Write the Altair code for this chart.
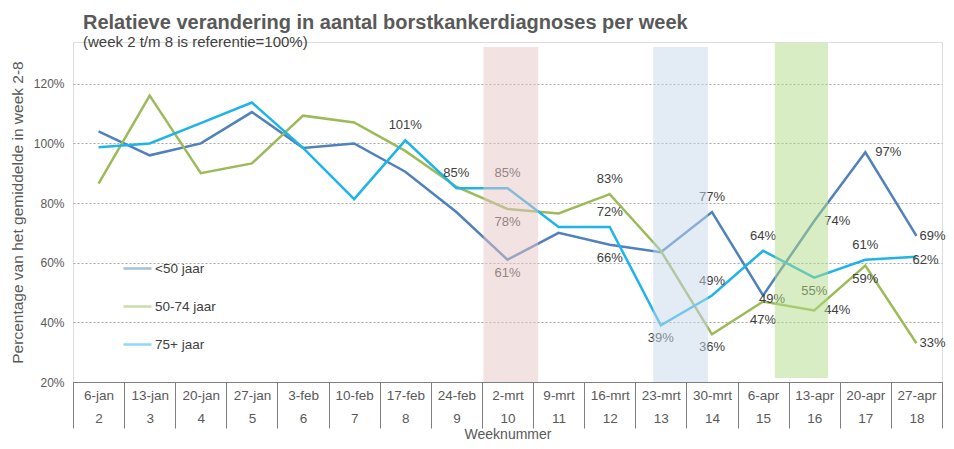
import json
import altair as alt
import pandas as pd

# ---------------- data ----------------
weeks = list(range(2, 19))
dates = ["6-jan", "13-jan", "20-jan", "27-jan", "3-feb", "10-feb", "17-feb", "24-feb",
         "2-mrt", "9-mrt", "16-mrt", "23-mrt", "30-mrt", "6-apr", "13-apr", "20-apr", "27-apr"]
under50 = [104, 96, 100, 110.5, 98.5, 100, 90.5, 77, 61, 70, 66, 63.5, 77, 49, 74, 97, 69]
mid5074 = [86.5, 116, 90, 93.3, 109.3, 107, 97.5, 85.5, 78, 76.5, 83, 64, 36, 47, 44, 59, 33]
over75 = [98.7, 100, 106.8, 113.7, 98.5, 81.3, 101, 85, 85, 72, 72, 39, 49, 64, 55, 61, 62]
series_names = ["<50 jaar", "50-74 jaar", "75+ jaar"]
series_colors = ["#4f81bd", "#9bbb59", "#1fb4e9"]

# data labels: which series / week gets a label, and where it sits
label_series = ["75+ jaar", "75+ jaar", "75+ jaar", "50-74 jaar", "<50 jaar",
                "50-74 jaar", "75+ jaar", "<50 jaar", "75+ jaar",
                "<50 jaar", "75+ jaar", "50-74 jaar",
                "75+ jaar", "<50 jaar", "50-74 jaar",
                "<50 jaar", "75+ jaar", "50-74 jaar",
                "<50 jaar", "75+ jaar", "50-74 jaar",
                "<50 jaar", "75+ jaar", "50-74 jaar"]
label_weeks = [8, 9, 10, 10, 10, 12, 12, 12, 13, 14, 14, 14, 15, 15, 15,
               16, 16, 16, 17, 17, 17, 18, 18, 18]
label_place = ["above", "above", "above", "below", "below",
               "above", "above", "below", "below",
               "above", "above", "below",
               "above", "near", "far_below",
               "right", "below", "right",
               "right", "above", "below",
               "right_edge", "near", "right_edge"]
placements = {"above": (0, -15), "below": (0, 13), "far_below": (0, 19),
              "right": (23, 0), "right_edge": (16, 0), "near": (9, 3)}

# highlighted periods (in week units)
band_start = [9.53, 12.85, 15.23]
band_end = [10.6, 13.92, 16.27]
band_top = [132.3, 132.3, 133.7]
band_bottom = [20, 20, 21.3]
band_colors = ["#e5c6c6", "#c8d8ec", "#b2db88"]

FONT = "Liberation Sans"

# ---------------- tables ----------------
series_values = {"<50 jaar": under50, "50-74 jaar": mid5074, "75+ jaar": over75}
rows = []
for name in series_names:
    for w, v in zip(weeks, series_values[name]):
        rows.append({"week": w, "value": v, "series": name})
lines_df = pd.DataFrame(rows)

lab_rows = []
for s, w, p in zip(label_series, label_weeks, label_place):
    v = series_values[s][weeks.index(w)]
    lab_rows.append({"week": w, "value": v, "text": f"{round(v)}%", "place": p})
labels_df = pd.DataFrame(lab_rows)

bands_df = pd.DataFrame({"start": band_start, "end": band_end, "top": band_top,
                         "bottom": band_bottom, "color": band_colors})

# ---------------- scales / axes ----------------
x_scale = alt.Scale(domain=[1.5, 18.5], nice=False, zero=False)
y_scale = alt.Scale(domain=[20, 134], nice=False, zero=False)

label_expr = ("datum.value < 18 ? [" + json.dumps(dates) + "[floor(datum.value) - 1], "
              + json.dumps([str(w) for w in weeks]) + "[floor(datum.value) - 1]] : ''")

x_axis = alt.Axis(values=[1.5 + i for i in range(18)], tickSize=46, tickColor="#7f7f7f",
                  domainColor="#7f7f7f", labelExpr=label_expr, labelOffset=25.56,
                  labelPadding=-40, labelBaseline="top", labelLineHeight=23,
                  labelFontSize=13.5, labelColor="#595959", labelOverlap=False,
                  labelBound=False, labelFlush=False, labelAlign="center", grid=False,
                  title="Weeknummer", titleFontSize=14, titleFontWeight="normal",
                  titleColor="#595959", titlePadding=-1, labelFont=FONT, titleFont=FONT)

y_axis = alt.Axis(values=[20, 40, 60, 80, 100, 120], labelExpr="datum.value + '%'",
                  grid=True, gridDash=[2, 2], gridColor="#a6a6a6", domain=False,
                  ticks=False, labelPadding=9, labelFontSize=12, labelColor="#595959",
                  title="Percentage van het gemiddelde in week 2-8", titleFontSize=15.5,
                  titleFontWeight="normal", titleColor="#595959", titlePadding=8,
                  labelFont=FONT, titleFont=FONT)

legend = alt.Legend(orient="none", legendX=49, legendY=211, title=None,
                    symbolType="stroke", symbolSize=784, symbolStrokeWidth=2.5,
                    labelFontSize=13.5, labelColor="#404040", rowPadding=16,
                    labelOffset=2, padding=0, labelFont=FONT)

lines = alt.Chart(lines_df).mark_line(strokeWidth=2.5).encode(
    x=alt.X("week:Q", scale=x_scale, axis=x_axis),
    y=alt.Y("value:Q", scale=y_scale, axis=y_axis),
    color=alt.Color("series:N", scale=alt.Scale(domain=series_names, range=series_colors),
                    sort=series_names, legend=legend),
)

label_layers = []
for place, (dx, dy) in placements.items():
    label_layers.append(
        alt.Chart(labels_df).transform_filter(alt.datum.place == place)
        .mark_text(dx=dx, dy=dy, fontSize=13, color="#404040", font=FONT,
                   align="center", baseline="middle")
        .encode(x="week:Q", y="value:Q", text="text:N")
    )

bands = alt.Chart(bands_df).mark_rect(opacity=0.5).encode(
    x="start:Q", x2="end:Q", y="bottom:Q", y2="top:Q",
    color=alt.Color("color:N", scale=None),
)

chart = alt.layer(lines, *label_layers, bands).properties(
    width=869, height=340,
    title=alt.TitleParams(
        text="Relatieve verandering in aantal borstkankerdiagnoses per week",
        subtitle="(week 2 t/m 8 is referentie=100%)",
        anchor="start", frame="group", dx=10, offset=-8,
        fontSize=20, fontWeight="bold", color="#595959", font=FONT,
        subtitleFontSize=15, subtitleColor="#404040", subtitleFont=FONT,
        subtitlePadding=2,
    ),
    autosize=alt.AutoSizeParams(type="none"),
    padding={"left": 65, "top": 34, "right": 4, "bottom": 59},
).configure_view(stroke=None).configure(font=FONT)

chart.save("out.html", embed_options={"renderer": "svg", "actions": False})
